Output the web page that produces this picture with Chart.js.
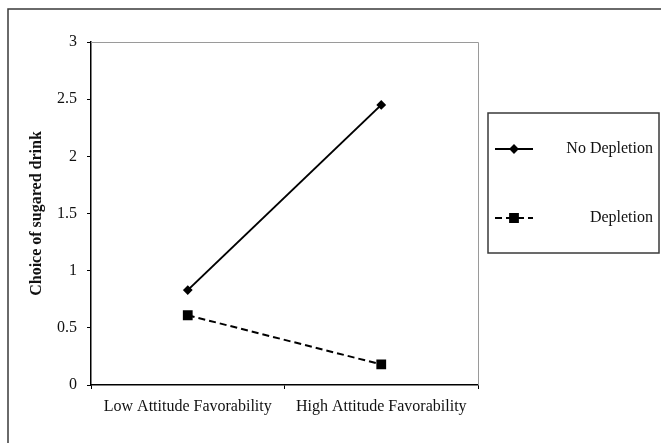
<!DOCTYPE html>
<html lang="en">
  <head>
    <meta charset="UTF-8" />
    <title>Choice of sugared drink</title>
    <script src="https://cdn.jsdelivr.net/npm/chart.js@4.4.1/dist/chart.umd.min.js"></script>
    <style>
      html, body { margin: 0; padding: 0; background: #fff; }
      #wrap { position: relative; width: 661px; height: 443px; }
    </style>
  </head>
  <body>
    <div id="wrap">
      <canvas id="chart" width="661" height="443"></canvas>
    </div>

    <script>
      // data
      const categories = ["Low Attitude Favorability", "High Attitude Favorability"];
      const noDepletion = [0.83, 2.45];
      const depletion = [0.61, 0.18];
      const seriesNames = ["No Depletion", "Depletion"];
      const yTicks = { min: 0, max: 3, step: 0.5 };

      const serif = "'Liberation Serif', 'Times New Roman', serif";

      // outer frame, plot frame and the boxed legend
      const framePlugin = {
        id: "frame",
        beforeDatasetsDraw(chart) {
          const { ctx, chartArea: a } = chart;
          ctx.save();
          ctx.strokeStyle = "#9a9a9a";
          ctx.lineWidth = 1;
          ctx.beginPath();
          ctx.moveTo(a.left, a.top + 0.5);
          ctx.lineTo(a.right + 0.5, a.top + 0.5);
          ctx.lineTo(a.right + 0.5, a.bottom);
          ctx.stroke();
          ctx.restore();
        },
        afterDraw(chart) {
          const ctx = chart.ctx;
          ctx.save();
          // outer border
          ctx.strokeStyle = "#3a3a3a";
          ctx.lineWidth = 1.5;
          ctx.strokeRect(8, 9, 670, 460);

          // legend box
          ctx.strokeRect(488, 113, 171, 140);
          const rows = [149, 218];
          chart.data.datasets.forEach((ds, i) => {
            const y = rows[i];
            ctx.strokeStyle = ds.borderColor;
            ctx.lineWidth = ds.borderWidth;
            ctx.setLineDash(ds.borderDash || []);
            ctx.beginPath();
            ctx.moveTo(495, y);
            ctx.lineTo(533, y);
            ctx.stroke();
            ctx.setLineDash([]);
            ctx.fillStyle = ds.pointBackgroundColor;
            ctx.strokeStyle = ds.pointBorderColor;
            Chart.helpers.drawPoint(ctx, {
              pointStyle: ds.pointStyle,
              radius: ds.pointRadius,
              rotation: 0,
              borderWidth: 1,
            }, 514, y);
            ctx.fillStyle = "#111";
            ctx.font = "16px " + serif;
            ctx.textAlign = "right";
            ctx.textBaseline = "middle";
            ctx.fillText(ds.label, 653, y);
          });
          ctx.restore();
        },
      };

      const ctx = document.getElementById("chart").getContext("2d");
      new Chart(ctx, {
        type: "line",
        data: {
          labels: categories,
          datasets: [
            {
              label: seriesNames[0],
              data: noDepletion,
              borderColor: "#000",
              borderWidth: 2,
              pointStyle: "rectRot",
              pointRadius: 3.5,
              pointBackgroundColor: "#000",
              pointBorderColor: "#000",
              tension: 0,
            },
            {
              label: seriesNames[1],
              data: depletion,
              borderColor: "#000",
              borderWidth: 2,
              borderDash: [7, 4],
              pointStyle: "rect",
              pointRadius: 5.5,
              pointBackgroundColor: "#000",
              pointBorderColor: "#000",
              tension: 0,
            },
          ],
        },
        options: {
          responsive: false,
          animation: false,
          devicePixelRatio: 1,
          layout: { padding: { left: 0, top: 42, right: 183, bottom: 0 } },
          plugins: {
            legend: { display: false },
            tooltip: { enabled: false },
          },
          scales: {
            x: {
              offset: true,
              afterFit(scale) { scale.height = 58; },
              border: { color: "#000", width: 1.5 },
              grid: {
                offset: true,
                drawOnChartArea: false,
                drawTicks: true,
                tickLength: 4,
                tickColor: "#000",
              },
              ticks: {
                color: "#111",
                padding: 8,
                maxRotation: 0,
                font: { family: serif, size: 16 },
              },
            },
            y: {
              min: yTicks.min,
              max: yTicks.max,
              afterFit(scale) { scale.width = 91; },
              border: { color: "#000", width: 1.5 },
              grid: {
                drawOnChartArea: false,
                drawTicks: true,
                tickLength: 4,
                tickColor: "#000",
              },
              ticks: {
                stepSize: yTicks.step,
                color: "#111",
                padding: 10,
                font: { family: serif, size: 16 },
                callback: (value) => String(Number(value.toFixed(1))),
              },
              title: {
                display: true,
                text: "Choice of sugared drink",
                color: "#111",
                padding: { top: 27, bottom: 0 },
                font: { family: serif, size: 16, weight: "bold" },
              },
            },
          },
        },
        plugins: [framePlugin],
      });
    </script>
  </body>
</html>
